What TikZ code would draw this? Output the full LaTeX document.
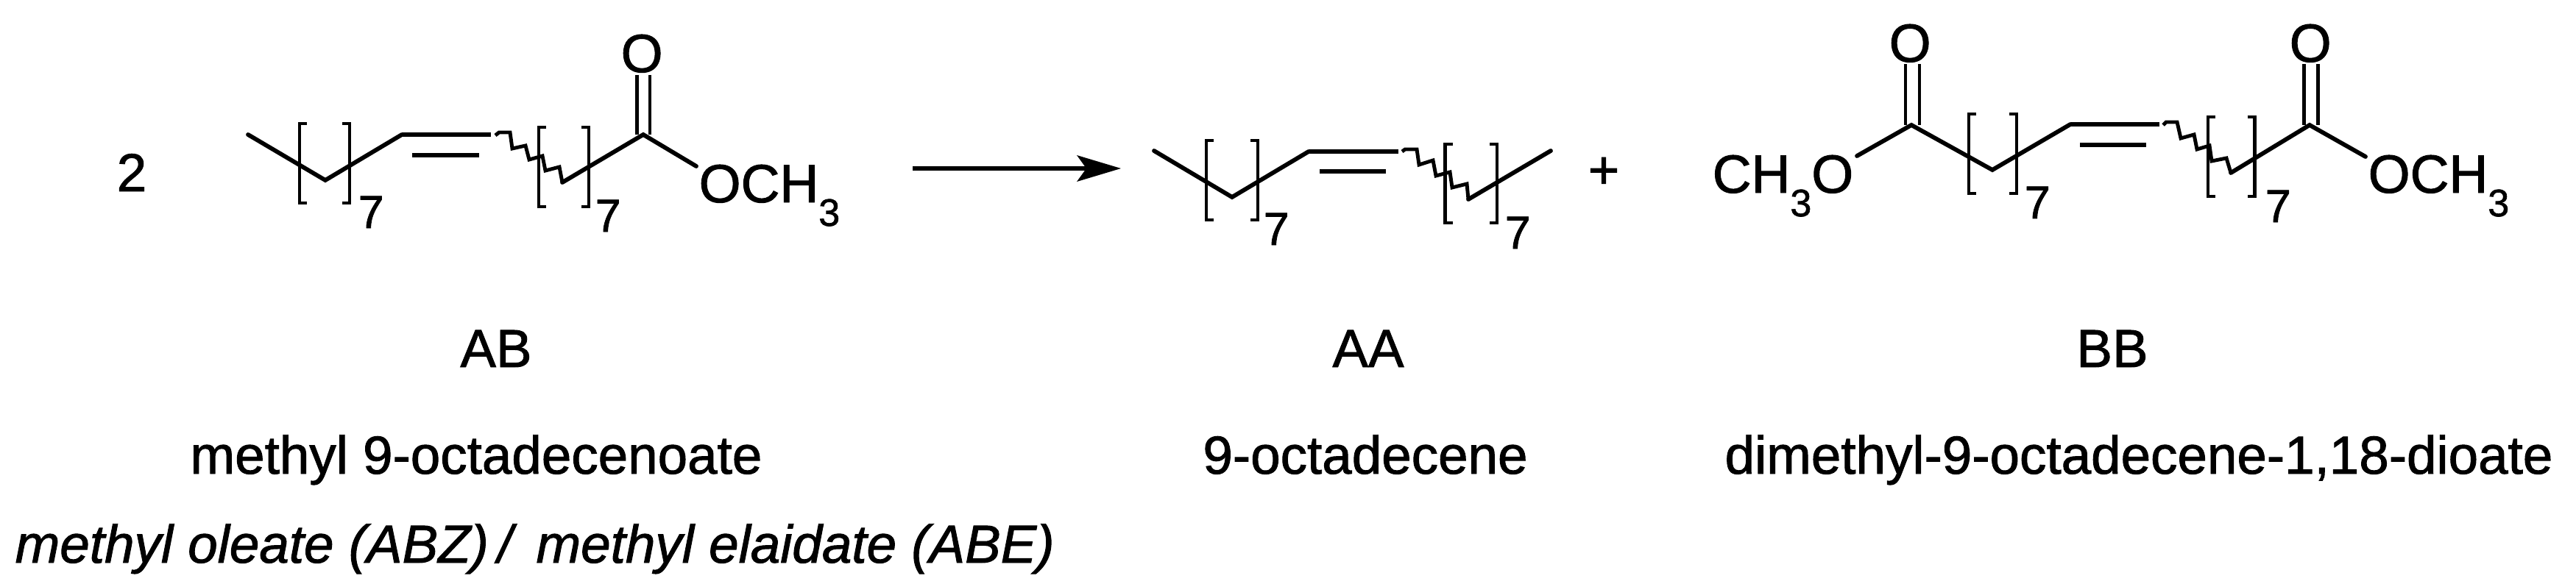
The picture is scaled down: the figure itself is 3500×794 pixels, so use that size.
\documentclass[tikz,border=0pt]{standalone}
\usepackage{fontspec}
\setmainfont{Liberation Sans}[FakeBold=1.3,AutoFakeBold=1.3]
\usetikzlibrary{arrows.meta}
\newcommand{\atomfont}{\fontsize{20.8}{24}\selectfont}
\newcommand{\subthree}{\raisebox{-9.1pt}{\fontsize{14.8}{16}\selectfont 3}}
\tikzset{
  bond/.style={line width=1.65pt,line join=miter,line cap=round},
  heavy/.style={line width=1.95pt,line cap=butt},
  wavy/.style={line width=1.4pt,line join=miter},
  bracket/.style={line width=1.25pt,line join=miter},
  atom/.style={font=\bfseries\atomfont,inner sep=0pt,anchor=base west},
  count/.style={font=\bfseries\fontsize{17.9}{20}\selectfont,inner sep=0pt,anchor=base west},
  label/.style={font=\fontsize{20.7}{24}\selectfont\addfontfeature{FakeBold=1.3},inner sep=0pt,anchor=base},
  rxn/.style={line width=1.7pt},
  rxnhead/.style={fill=black,draw=none},
}
\newcommand{\brk}[4]{\draw[bracket] ({#1+#2},#3) -- (#1,#3) -- (#1,#4) -- ({#1+#2},#4);}
\begin{document}
\begin{tikzpicture}[x=0.01cm,y=-0.01cm]
\useasboundingbox (0,0) rectangle (3500,794);
% ---- labels
\node[label] (two) at (179,260) {2};
\node[label] (labAB) at (674,499) {AB};
\node[label] (nameAB) at (647,644) {methyl 9-octadecenoate};
\node[label,anchor=base west] (tradeAB) at (20,765) {\itshape\addfontfeature{FakeBold=1.3} methyl oleate (ABZ)\,/ \,methyl elaidate (ABE)};
\node[label] (labAA) at (1859,499) {AA};
\node[label] (nameAA) at (1855,644) {9-octadecene};
\node[label] (labBB) at (2870,499) {BB};
\node[label] (nameBB) at (2906,644) {dimethyl-9-octadecene-1,18-dioate};
\node[label] (plus) at (2179,256) {+};
% ---- AB
\node[atom] (abO) at (843,98) {\addfontfeature{FakeBold=1.3}O};
\node[atom] (abOMe) at (949,275) {\addfontfeature{FakeBold=1.3}OCH\subthree};
\coordinate (ab1) at (337,183);
\coordinate (ab2) at (442,245);
\coordinate (ab3) at (546,183);
\coordinate (ab4) at (667,183);
\coordinate (ab5) at (764,248);
\coordinate (ab6) at (874,183);
\coordinate (ab7) at (946,226);
\draw[bond] (ab1) -- (ab2) -- (ab3);
\draw[heavy] (ab3) -- (ab4);
\draw[heavy] (560,211) -- (651,211);
\draw[wavy] (673,184) -- (678,180) -- (693,180) -- (696,202) -- (714,198) -- (719,217) -- (737,212) -- (741,232) -- (760,227) -- (ab5);
\draw[bond] (ab5) -- (ab6) -- (ab7);
\draw[wavy] (865.5,102) -- (865.5,183);
\draw[wavy] (883,102) -- (883,183);
\brk{407}{10}{168}{276}
\brk{475}{-10}{168}{276}
\brk{732}{10}{173}{281}
\brk{800}{-10}{173}{281}
\node[count] (ab7a) at (486,310) {\addfontfeature{FakeBold=1.3}7};
\node[count] (ab7b) at (808,315) {\addfontfeature{FakeBold=1.3}7};
% ---- arrow
\coordinate (arrA) at (1240,229);
\coordinate (arrN) at (1476,229);
\coordinate (arrB) at (1523,229);
\coordinate (arrU) at (1463,211);
\coordinate (arrD) at (1463,247);
\draw[rxn] (arrA) -- (arrN);
\fill[rxnhead] (arrB) -- (arrU) -- (arrN) -- (arrD) -- cycle;
% ---- AA
\coordinate (aa1) at (1568,205);
\coordinate (aa2) at (1674,268);
\coordinate (aa3) at (1778,206);
\coordinate (aa4) at (1900,206);
\coordinate (aa5) at (1995,271);
\coordinate (aa6) at (2107,205);
\draw[bond] (aa1) -- (aa2) -- (aa3);
\draw[heavy] (aa3) -- (aa4);
\draw[heavy] (1793,233) -- (1883,233);
\draw[wavy] (1905,206) -- (1909,203) -- (1925,203) -- (1928,224) -- (1947,218) -- (1951,239) -- (1970,234) -- (1973,255) -- (1993,250) -- (aa5);
\draw[bond] (aa5) -- (aa6);
\brk{1639}{10}{191}{299}
\brk{1709}{-10}{191}{299}
\brk{1963.5}{10}{196}{303}
\brk{2034}{-10}{196}{303}
\node[count] (aa7a) at (1716,333) {\addfontfeature{FakeBold=1.3}7};
\node[count] (aa7b) at (2044,338) {\addfontfeature{FakeBold=1.3}7};
% ---- BB
\node[atom] (bbMeO) at (2326,262) {\addfontfeature{FakeBold=1.3}CH\subthree O};
\node[atom] (bbO1) at (2566,84) {\addfontfeature{FakeBold=1.3}O};
\node[atom] (bbO2) at (3110,84) {\addfontfeature{FakeBold=1.3}O};
\node[atom] (bbOMe) at (3217,262) {\addfontfeature{FakeBold=1.3}OCH\subthree};
\coordinate (bb1) at (2523,212);
\coordinate (bb2) at (2597,170);
\coordinate (bb3) at (2707,231);
\coordinate (bb4) at (2813,169);
\coordinate (bb5) at (2933.5,169);
\coordinate (bb6) at (3031,235);
\coordinate (bb7) at (3138,170);
\coordinate (bb8) at (3214,213);
\draw[bond] (bb1) -- (bb2) -- (bb3) -- (bb4);
\draw[heavy] (bb4) -- (bb5);
\draw[heavy] (2826,197) -- (2916,197);
\draw[wavy] (2939,170) -- (2943,166) -- (2958,166) -- (2963,188) -- (2981,183) -- (2985,203) -- (3002,198) -- (3005,219) -- (3025,215) -- (bb6);
\draw[bond] (bb6) -- (bb7) -- (bb8);
\draw[wavy] (2589,87) -- (2589,170);
\draw[wavy] (2608,87) -- (2608,170);
\draw[wavy] (3130,87) -- (3130,170);
\draw[wavy] (3149,87) -- (3149,170);
\brk{2675}{10}{155}{263}
\brk{2740}{-10}{155}{263}
\brk{3000}{10}{159}{267}
\brk{3063.6}{-10}{159}{267}
\node[count] (bb7a) at (2750,297) {\addfontfeature{FakeBold=1.3}7};
\node[count] (bb7b) at (3077,302) {\addfontfeature{FakeBold=1.3}7};
\end{tikzpicture}
\end{document}
